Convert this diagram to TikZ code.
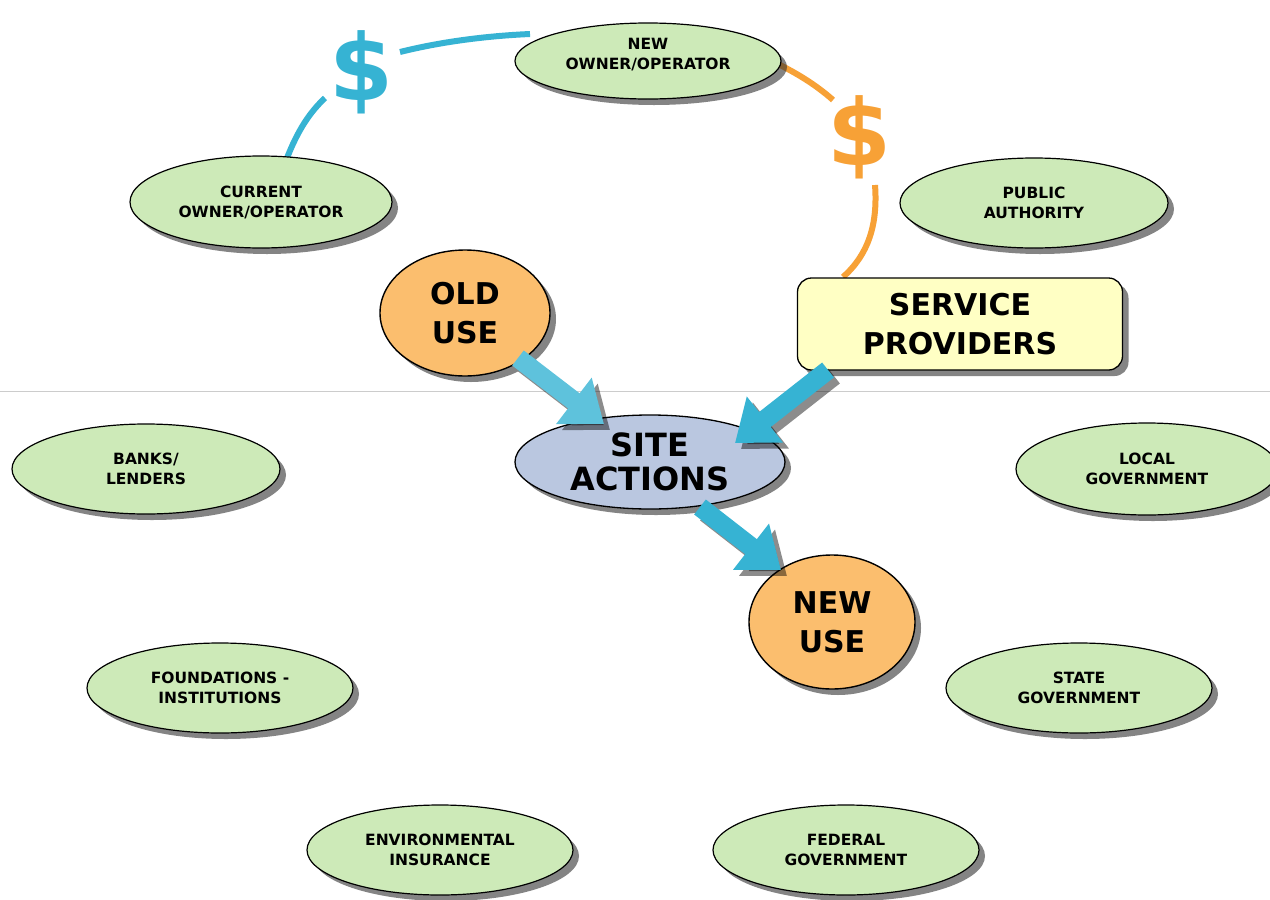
\documentclass[tikz,border=0pt]{standalone}
\usepackage{fontspec}
\setmainfont{DejaVu Sans}
\usetikzlibrary{shapes.geometric,shadows,arrows.meta}
\definecolor{gfill}{HTML}{CDEAB8}
\definecolor{ofill}{HTML}{FBBE6E}
\definecolor{bfill}{HTML}{BAC7E0}
\definecolor{yfill}{HTML}{FFFFC4}
\definecolor{cblue}{HTML}{36B3D3}
\definecolor{corange}{HTML}{F7A136}
\tikzset{
  sh/.style={drop shadow={shadow xshift=6pt,shadow yshift=-6pt,opacity=0.6,fill=black!80}},
  party/.style={ellipse,draw=black,line width=1.2pt,fill=gfill,inner sep=0pt,align=center,
     font=\fontsize{15.5}{20}\selectfont\bfseries,sh},
  use/.style={ellipse,draw=black,line width=1.4pt,fill=ofill,inner sep=0pt,align=center,
     font=\fontsize{30}{39}\selectfont\bfseries,sh},
  bigarrow/.style={cblue,line width=19pt,-{Triangle[length=38pt,width=56pt]}},
  arrowsh/.style={black,opacity=0.45,line width=19pt,-{Triangle[length=38pt,width=56pt]}},
  ring/.style={line width=6pt},
  dollar/.style={font=\fontsize{92}{92}\selectfont\bfseries,inner sep=0pt}
}
\begin{document}
\begin{tikzpicture}[x=1pt,y=-1pt]
\useasboundingbox (0,0) rectangle (1270,900);
\fill[white] (0,0) rectangle (1270,900);
\draw[black!20,line width=1pt] (0,391) -- (1270,391);

% ring points
\coordinate (b0) at (287,158);
\coordinate (b1) at (325,98);
\coordinate (b2) at (400,52);
\coordinate (b3) at (530,34);
\coordinate (o0) at (770,60);
\coordinate (o1) at (833,100);
\coordinate (o2) at (875,185);
\coordinate (o3) at (843,277);

% dollar signs
\node[dollar,text=cblue] (dblue) at (362,72) {\$};
\node[dollar,text=corange] (dorange) at (859,137) {\$};

% ring segments
\draw[ring,cblue] (b0) .. controls (298,130) and (310,112) .. (b1);
\draw[ring,cblue] (b2) .. controls (440,42) and (485,36) .. (b3);
\draw[ring,corange] (o0) .. controls (795,72) and (815,84) .. (o1);
\draw[ring,corange] (o2) .. controls (878,225) and (868,255) .. (o3);

% nodes
\node[party,minimum width=266pt,minimum height=76pt] (newown) at (648,61) {};
\node[font=\fontsize{15.5}{20}\selectfont\bfseries,align=center,inner sep=0pt] (newownlbl) at (648,55) {NEW\\OWNER/OPERATOR};
\node[party,minimum width=262pt,minimum height=92pt] (curown) at (261,202) {CURRENT\\OWNER/OPERATOR};
\node[party,minimum width=268pt,minimum height=90pt] (pubauth) at (1034,203) {PUBLIC\\AUTHORITY};
\node[party,minimum width=268pt,minimum height=90pt] (banks) at (146,469) {BANKS/\\LENDERS};
\node[party,minimum width=262pt,minimum height=92pt] (localgov) at (1147,469) {LOCAL\\GOVERNMENT};
\node[party,minimum width=266pt,minimum height=90pt] (found) at (220,688) {FOUNDATIONS -\\INSTITUTIONS};
\node[party,minimum width=266pt,minimum height=90pt] (stategov) at (1079,688) {STATE\\GOVERNMENT};
\node[party,minimum width=266pt,minimum height=90pt] (envins) at (440,850) {ENVIRONMENTAL\\INSURANCE};
\node[party,minimum width=266pt,minimum height=90pt] (fedgov) at (846,850) {FEDERAL\\GOVERNMENT};

\node[use,minimum width=170pt,minimum height=126pt] (olduse) at (465,313) {OLD\\USE};
\node[use,minimum width=166pt,minimum height=134pt] (newuse) at (832,622) {NEW\\USE};
\node[ellipse,draw=black,line width=1.3pt,fill=bfill,inner sep=0pt,minimum width=270pt,minimum height=94pt,
  align=center,font=\fontsize{32}{34}\selectfont\bfseries,sh] (site) at (650,462) {SITE\\ACTIONS};

\node[rounded corners=14pt,draw=black,line width=1.3pt,fill=yfill,minimum width=325pt,minimum height=92pt,
  inner sep=0pt,align=center,font=\fontsize{30}{39}\selectfont\bfseries,sh] (serv) at (960,324) {SERVICE\\PROVIDERS};

% big arrows
\coordinate (a1s) at (518,358);
\coordinate (a1e) at (604,424);
\coordinate (a2s) at (828,370);
\coordinate (a2e) at (735,443);
\coordinate (a3s) at (700,507);
\coordinate (a3e) at (781,570);
\draw[arrowsh,transform canvas={shift={(6pt,-6pt)}}] (a1s) -- (a1e);
\draw[arrowsh,transform canvas={shift={(6pt,-6pt)}}] (a2s) -- (a2e);
\draw[arrowsh,transform canvas={shift={(6pt,-6pt)}}] (a3s) -- (a3e);
\draw[bigarrow,cblue!80] (a1s) -- (a1e);
\draw[bigarrow] (a2s) -- (a2e);
\draw[bigarrow] (a3s) -- (a3e);
\end{tikzpicture}
\end{document}
